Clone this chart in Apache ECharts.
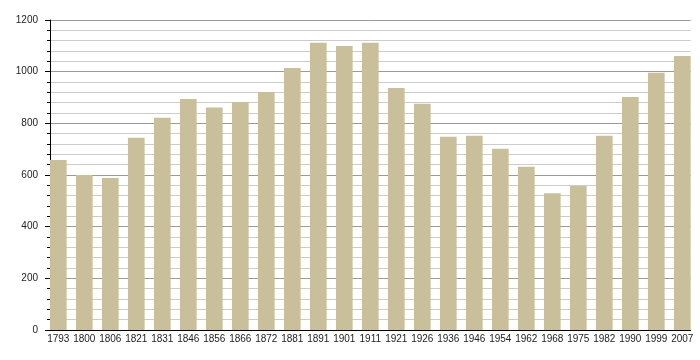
<!DOCTYPE html>
<html><head><meta charset="utf-8">
<script src="https://cdn.jsdelivr.net/npm/echarts@6/dist/echarts.min.js"></script>
<style>html,body{margin:0;padding:0;background:#fff}#c{width:700px;height:360px}</style>
</head><body><div id="c"></div>
<script>
var years = ['1793','1800','1806','1821','1831','1846','1856','1866','1872','1881','1891','1901','1911','1921','1926','1936','1946','1954','1962','1968','1975','1982','1990','1999','2007'];
var population = [658,600,588,744,822,894,861,883,921,1014,1112,1099,1112,937,876,748,752,702,632,529,557,752,902,996,1061];
var yTicks = [0,200,400,600,800,1000,1200];

var chart = echarts.init(document.getElementById('c'), null, {renderer:'canvas'});
var font = 'Liberation Sans, Arial, sans-serif';
chart.setOption({
  animation:false,
  backgroundColor:'#fff',
  grid:[
    {left:45.3, top:20, width:650, height:310},
    {left:50, top:20, width:640.7, height:310}
  ],
  xAxis:[
    {type:'category', gridIndex:0, data:years, boundaryGap:true,
     axisLine:{show:false}, axisTick:{show:false},
     axisLabel:{margin:4, fontSize:10, fontFamily:font, color:'#222', interval:0}},
    {type:'value', gridIndex:1, min:0, max:1, show:true,
     axisLine:{show:true, lineStyle:{color:'#000', width:1}},
     axisTick:{show:false}, axisLabel:{show:false}, splitLine:{show:false}}
  ],
  yAxis:[
    {type:'value', gridIndex:0, min:0, max:1200, show:false},
    {type:'value', gridIndex:1, min:0, max:1200, interval:200,
     axisLine:{show:true, lineStyle:{color:'#000', width:1}},
     axisTick:{show:true, length:5, lineStyle:{color:'#000'}},
     minorTick:{show:true, splitNumber:5, length:3, lineStyle:{color:'#000'}},
     axisLabel:{margin:12, fontSize:10, fontFamily:font, color:'#222',
       formatter:function(v){return yTicks.indexOf(v)>=0?String(v):'';}},
     splitLine:{show:true, lineStyle:{color:'#9a9a9a', width:1}},
     minorSplitLine:{show:true, lineStyle:{color:'#cccccc', width:1}}}
  ],
  series:[
    {type:'bar', xAxisIndex:0, yAxisIndex:0, data:population, barWidth:16.7,
     itemStyle:{color:'#c9c09b'}, z:5}
  ]
});
</script></body></html>
